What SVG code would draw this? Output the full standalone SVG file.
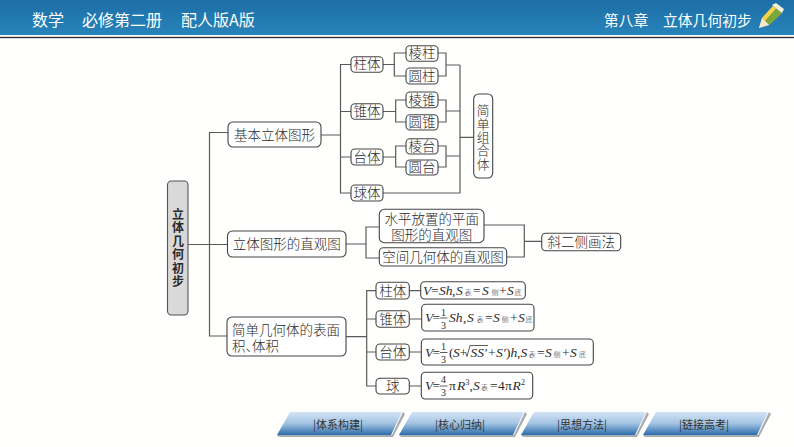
<svg xmlns="http://www.w3.org/2000/svg" width="794" height="447" viewBox="0 0 794 447">
<style>
text{font-family:"Noto Sans CJK SC","Noto Sans",sans-serif;fill:#2a2a2a}
.n{font-size:13.5px;text-anchor:middle;font-weight:300}
.box{fill:#fff;stroke:#444;stroke-width:1.1}
.c{fill:none;stroke:#5a5a5a;stroke-width:1.2}
.r{fill:none;stroke:#333;stroke-width:.8}
.f{font-family:"Liberation Serif",serif;font-size:13.500px}
.i{font-style:italic}
.s{font-family:"Noto Sans CJK SC",sans-serif;font-size:7px;font-weight:300;font-style:normal}
.m{font-family:"Liberation Serif",serif;font-size:10px;text-anchor:middle}
.tab{fill:url(#tabg)}
.sh{fill:#a9acaf}
.t{font-size:11px;text-anchor:middle;fill:#333}
</style>
<defs>
<linearGradient id="hg" x1="0" y1="0" x2="0" y2="1"><stop offset="0" stop-color="#1d6ea6"/><stop offset="1" stop-color="#2784ba"/></linearGradient>
<linearGradient id="tabg" x1="0" y1="0" x2="0" y2="1"><stop offset="0" stop-color="#d3e4f5"/><stop offset=".5" stop-color="#a3c3e2"/><stop offset="1" stop-color="#2a6cab"/></linearGradient>
<path id="tabshape" class="sh" d="M279 437L393 437L405 414L403 412L392 435L277 435Z"/>
<path id="tabface" class="tab" d="M290 412L402 412L391 435L277 435Z"/>
</defs>
<rect width="794" height="447" fill="#fffffe"/>
<g id="header">
<rect width="794" height="35" fill="url(#hg)"/>
<rect y="35" width="794" height="2" fill="#fff"/>
<rect y="36.800" width="794" height="1.400" fill="#333"/>
<text x="32" y="26" font-size="16" style="fill:#fff">数学</text>
<text x="82" y="26" font-size="16" style="fill:#fff">必修第二册</text>
<text x="181" y="26" font-size="16" style="fill:#fff">配人版A版</text>
<text x="604" y="25.500" font-size="14.700" style="fill:#fff">第八章</text>
<text x="663" y="25.500" font-size="14.800" style="fill:#fff">立体几何初步</text>
<path d="M759 28L762 18L773 6L782 13L769 25Z" fill="#e8a93a"/>
<path d="M762 18L773 6L776 8.500L765 21Z" fill="#f3d24a"/>
<path d="M765 21L776 8.500L782 13L769 25Z" fill="#7aa83a"/>
<path d="M772 5L776 3L784 9L782 13Z" fill="#f4f0dc"/>
<path d="M759 28L762 18L769 25Z" fill="#f2ead2"/>
</g>
<g id="connectors">
<path class="c" d="M188 244.500H228M228 132.500H209.500V336H227"/>
<path class="c" d="M321 135H340.500M351 64.500H340.500V193H351M340.500 111.500H351M340.500 157H351"/>
<path class="c" d="M383 64.500H394.300M406 53H394.300V76H406M438 53H446V76H438M446 65H460"/>
<path class="c" d="M383 111.500H395.700M406 100H395.700V122H406M438 100H446V122H438M446 111H460"/>
<path class="c" d="M383 157H395.700M406 146H395.700V167H406M438 146H446V167H438M446 156H460"/>
<path class="c" d="M383 193H460V65M460 137.300H474"/>
<path class="c" d="M346 244H366M379 227H366V258H379M484 225H524.300V257H507M524.300 241.300H542"/>
<path class="c" d="M346 336.700H366.700M376 290.700H366.700V386H376M366.700 319H376M366.700 352H376"/>
<path class="c" d="M409 290.700H421M409 319H422M409 352H421M409 386H421"/>
</g>
<g id="root"><rect x="167.500" y="181" width="20.500" height="134" rx="4" fill="#d9d9d9" stroke="#555" stroke-width="1.100"/>
<text style="font-size:12px;font-weight:700;text-anchor:middle" x="178" y="218.500"><tspan x="178">立</tspan><tspan x="178" dy="13.500">体</tspan><tspan x="178" dy="13.500">几</tspan><tspan x="178" dy="13.500">何</tspan><tspan x="178" dy="13.500">初</tspan><tspan x="178" dy="13.500">步</tspan></text></g>
<g id="n1"><rect class="box" x="228" y="122" width="93" height="25" rx="5"/><text class="n" x="274.500" y="139.500">基本立体图形</text></g>
<g id="n2"><rect class="box" x="227.500" y="231" width="118.500" height="26" rx="5"/><text class="n" x="286.700" y="249">立体图形的直观图</text></g>
<g id="n3"><rect class="box" x="227" y="317" width="119" height="39" rx="5"/><text class="n" style="text-anchor:start" x="232" y="334.500">简单几何体的表面</text><text class="n" style="text-anchor:start" x="232 245.500 252 265.500" y="351">积、体积</text></g>
<g id="zhuti"><rect class="box" x="351" y="56.700" width="32" height="15.600" rx="4"/><text class="n" x="367" y="69.300">柱体</text></g>
<g id="zhuiti"><rect class="box" x="351" y="103.700" width="32" height="15.600" rx="4"/><text class="n" x="367" y="116.300">锥体</text></g>
<g id="taiti"><rect class="box" x="351" y="149" width="32" height="16" rx="4"/><text class="n" x="367" y="161.800">台体</text></g>
<g id="qiuti"><rect class="box" x="351" y="185" width="32" height="16" rx="4"/><text class="n" x="367" y="197.800">球体</text></g>
<g id="lengzhu"><rect class="box" x="406" y="45.700" width="32" height="15.600" rx="4"/><text class="n" x="422" y="58.300">棱柱</text></g>
<g id="yuanzhu"><rect class="box" x="406" y="68" width="32" height="16" rx="4"/><text class="n" x="422" y="80.800">圆柱</text></g>
<g id="lengzhui"><rect class="box" x="406" y="92" width="32" height="15.700" rx="4"/><text class="n" x="422" y="104.700">棱锥</text></g>
<g id="yuanzhui"><rect class="box" x="406" y="114.700" width="32" height="15.300" rx="4"/><text class="n" x="422" y="127.200">圆锥</text></g>
<g id="lengtai"><rect class="box" x="406" y="138.700" width="32" height="15.300" rx="4"/><text class="n" x="422" y="151.200">棱台</text></g>
<g id="yuantai"><rect class="box" x="406" y="160" width="32" height="15" rx="4"/><text class="n" x="422" y="172.300">圆台</text></g>
<g id="zuhe"><rect class="box" x="473.700" y="94" width="19" height="84" rx="5"/><text class="n" style="font-size:12.800px" x="483.200" y="115.200"><tspan x="483.200">简</tspan><tspan x="483.200" dy="13.400">单</tspan><tspan x="483.200" dy="13.400">组</tspan><tspan x="483.200" dy="13.400">合</tspan><tspan x="483.200" dy="13.400">体</tspan></text></g>
<g id="shuiping"><rect class="box" x="379.300" y="209.300" width="104.700" height="33.400" rx="5"/><text class="n" x="431.700" y="224">水平放置的平面</text><text class="n" x="431.700" y="239.500">图形的直观图</text></g>
<g id="kongjian"><rect class="box" x="379.300" y="247.700" width="127.400" height="18.300" rx="4"/><text class="n" x="443" y="261.500">空间几何体的直观图</text></g>
<g id="xie"><rect class="box" x="541.700" y="233.300" width="79" height="17.400" rx="4"/><text class="n" x="581.200" y="246.800">斜二侧画法</text></g>
<g id="b1"><rect class="box" x="376" y="282.300" width="33.300" height="16.700" rx="4"/><text class="n" x="392.700" y="295.600">柱体</text></g>
<g id="b2"><rect class="box" x="376" y="310.700" width="33.300" height="16.600" rx="4"/><text class="n" x="392.700" y="324">锥体</text></g>
<g id="b3"><rect class="box" x="376" y="344" width="33.300" height="16" rx="4"/><text class="n" x="392.700" y="357">台体</text></g>
<g id="b4"><rect class="box" x="376" y="378.300" width="33.300" height="15.700" rx="4"/><text class="n" x="392.700" y="391">球</text></g>
<g id="f1"><rect class="box" x="420.700" y="281.700" width="104.600" height="17.300" rx="4"/>
<text class="f" y="295"><tspan class="i" x="423">V</tspan><tspan x="431">=</tspan><tspan class="i" x="439">Sh</tspan><tspan x="452">,</tspan><tspan class="i" x="456">S</tspan><tspan class="s" x="464.500">表</tspan><tspan x="473">=</tspan><tspan class="i" x="482">S</tspan><tspan class="s" x="491.500">侧</tspan><tspan x="499">+</tspan><tspan class="i" x="507">S</tspan><tspan class="s" x="514.500">底</tspan></text></g>
<g id="f2"><rect class="box" x="421.700" y="304.300" width="112.300" height="26.700" rx="4"/>
<text class="f" y="322"><tspan class="i" x="425">V</tspan><tspan x="432.500">=</tspan></text><text class="m" x="443.500" y="315.500">1</text><path class="r" d="M440 318H447.500"/><text class="m" x="443.500" y="328.500">3</text>
<text class="f" y="322"><tspan class="i" x="449">Sh</tspan><tspan x="463">,</tspan><tspan class="i" x="467">S</tspan><tspan class="s" x="476.500">表</tspan><tspan x="485">=</tspan><tspan class="i" x="493">S</tspan><tspan class="s" x="501.500">侧</tspan><tspan x="510">+</tspan><tspan class="i" x="518">S</tspan><tspan class="s" x="525.500">底</tspan></text></g>
<g id="f3"><rect class="box" x="421.300" y="339" width="172" height="26" rx="4"/>
<text class="f" y="356.500"><tspan class="i" x="425">V</tspan><tspan x="432.500">=</tspan></text><text class="m" x="443.500" y="349.500">1</text><path class="r" d="M440 352.500H447.500"/><text class="m" x="443.500" y="362.500">3</text>
<text class="f" y="356.500"><tspan x="449">(</tspan><tspan class="i" x="453">S</tspan><tspan x="459.500">+</tspan><tspan class="i" x="470.500">SS′</tspan><tspan x="488">+</tspan><tspan class="i" x="496">S′</tspan><tspan x="506">)</tspan><tspan class="i" x="510.500">h</tspan><tspan x="517">,</tspan><tspan class="i" x="520.500">S</tspan><tspan class="s" x="528.500">表</tspan><tspan x="537">=</tspan><tspan class="i" x="545">S</tspan><tspan class="s" x="553.500">侧</tspan><tspan x="562">+</tspan><tspan class="i" x="570">S</tspan><tspan class="s" x="579">底</tspan></text>
<path class="r" d="M465.500 352.500L467 356.500L470 345.500H488"/></g>
<g id="f4"><rect class="box" x="421.300" y="372.300" width="111.400" height="26.700" rx="4"/>
<text class="f" y="390"><tspan class="i" x="425">V</tspan><tspan x="432.500">=</tspan></text><text class="m" x="443.500" y="383">4</text><path class="r" d="M440 386H447.500"/><text class="m" x="443.500" y="396">3</text>
<text class="f" y="390"><tspan x="449">π</tspan><tspan class="i" x="457">R</tspan><tspan font-size="8" x="465.500" dy="-5">3</tspan><tspan x="469.500" dy="5">,</tspan><tspan class="i" x="473">S</tspan><tspan class="s" x="481">表</tspan><tspan x="490">=</tspan><tspan x="498">4</tspan><tspan x="505">π</tspan><tspan class="i" x="512.500">R</tspan><tspan font-size="8" x="521" dy="-5">2</tspan></text></g>
<g id="tab1"><use href="#tabshape"/><use href="#tabface"/><text class="t" x="338" y="429">|体系构建|</text></g>
<g id="tab2" transform="translate(122 0)"><use href="#tabshape"/><use href="#tabface"/><text class="t" x="338" y="429">|核心归纳|</text></g>
<g id="tab3" transform="translate(244 0)"><use href="#tabshape"/><use href="#tabface"/><text class="t" x="338" y="429">|思想方法|</text></g>
<g id="tab4" transform="translate(366 0)"><use href="#tabshape"/><use href="#tabface"/><text class="t" x="338" y="429">|链接高考|</text></g>
</svg>
